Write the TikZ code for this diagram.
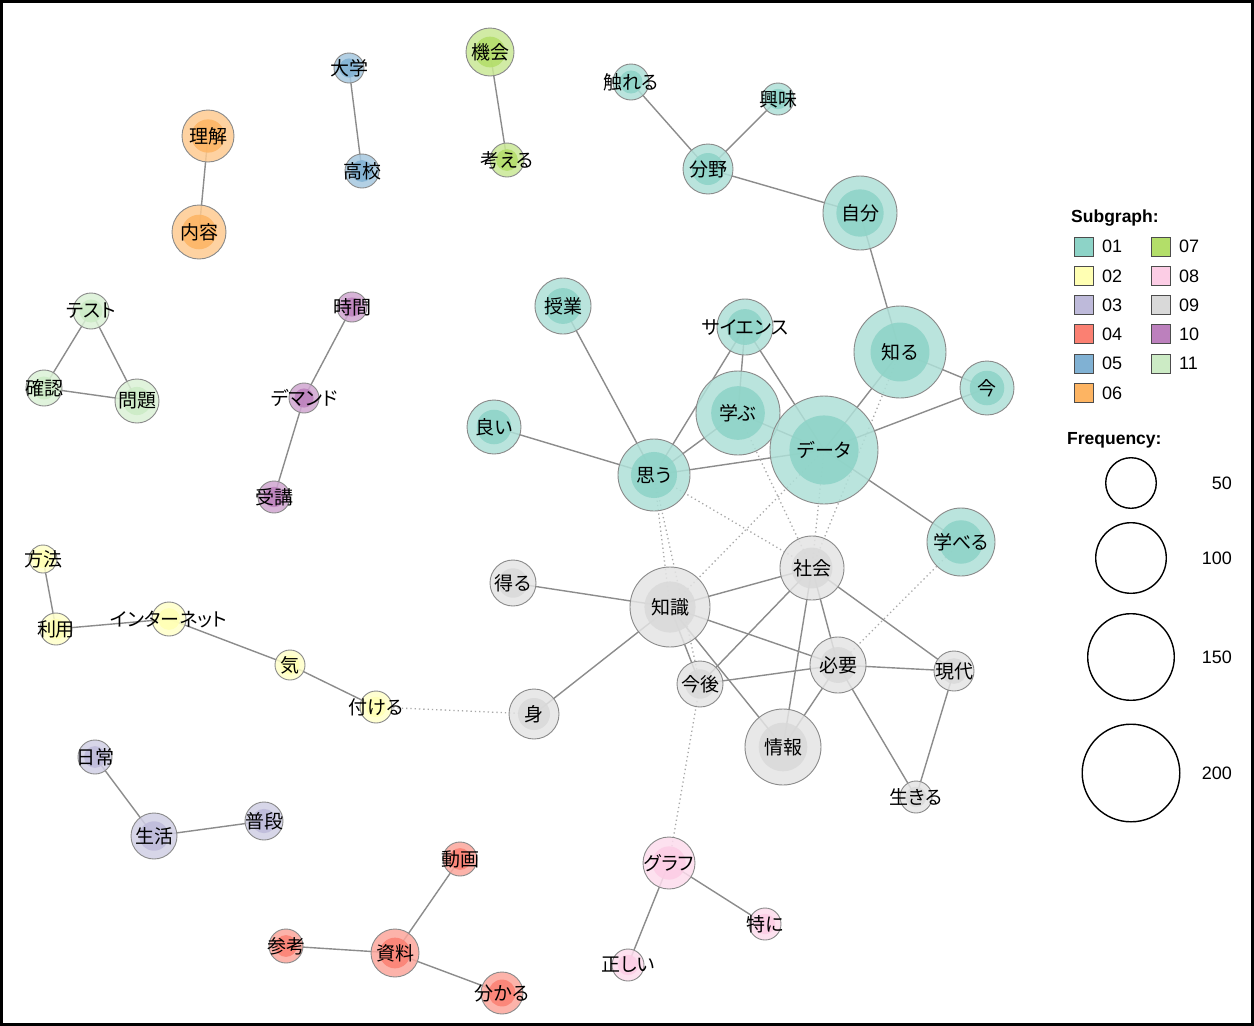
\documentclass[tikz,border=0pt]{standalone}
\usepackage{fontspec}
\newfontfamily\jpf[RawFeature={+palt}]{Noto Sans CJK JP}
\newfontfamily\lgf{Liberation Sans}
\definecolor{cA}{HTML}{8DD3C7}
\definecolor{cB}{HTML}{FFFFB3}
\definecolor{cC}{HTML}{BEBADA}
\definecolor{cD}{HTML}{FB8072}
\definecolor{cE}{HTML}{80B1D3}
\definecolor{cF}{HTML}{FDB462}
\definecolor{cG}{HTML}{B3DE69}
\definecolor{cH}{HTML}{FCCDE5}
\definecolor{cI}{HTML}{D9D9D9}
\definecolor{cJ}{HTML}{BC80BD}
\definecolor{cK}{HTML}{CCEBC5}
\definecolor{edgec}{HTML}{8C8C8C}
\definecolor{dotc}{HTML}{A8A8A8}
\definecolor{bordc}{HTML}{8A8A8A}
\pgfdeclarelayer{bg}
\pgfsetlayers{bg,main}
\tikzset{
  wordcirc/.style={circle, draw=bordc, line width=0.9pt, inner sep=0pt, outer sep=0pt},
  wordlabel/.style={font=\jpf\fontsize{19}{21}\selectfont, inner sep=0pt, text=black},
  lnk/.style={draw=edgec, line width=1.4pt},
  wlnk/.style={draw=dotc, line width=1.3pt, dash pattern=on 1.3pt off 3pt},
  legsq/.style={draw=black!70, line width=1pt},
  legtxt/.style={font=\lgf\fontsize{18}{20}\selectfont, inner sep=0pt},
  leghead/.style={font=\lgf\bfseries\fontsize{17.5}{20}\selectfont, inner sep=0pt, anchor=west},
  legcirc/.style={draw=black, line width=1.4pt}
}
\newcommand\wnode[6]{%
  \node[wordcirc, fill=#5!70!white, fill opacity=0.85, minimum size={2*#4 pt}] (#1) at (#2,#3) {};
  \fill[#5, fill opacity=0.85] (#1.center) circle[radius={0.64*#4 pt}];
  \node[wordlabel] (#1-t) at (#1.center) {#6};
}
\begin{document}
\begin{tikzpicture}[x=1pt,y=-1pt]
\useasboundingbox (0,0) rectangle (1254,1026);
\begin{pgfonlayer}{bg}
\fill[white] (0,0) rectangle (1254,1026);
\end{pgfonlayer}
\draw[line width=2.6pt] (1.3,1.3) rectangle (1252.7,1024.7);

% subgraph 01
\wnode{fureru}{631}{82}{18}{cA}{触れる}
\wnode{kyomi}{778}{99}{16}{cA}{興味}
\wnode{bunya}{708}{169}{25}{cA}{分野}
\wnode{jibun}{860}{213}{37}{cA}{自分}
\wnode{jugyo}{563}{306}{28}{cA}{授業}
\wnode{science}{745}{327}{28}{cA}{サイエンス}
\wnode{shiru}{900}{352}{46}{cA}{知る}
\wnode{ima}{987}{388}{27}{cA}{今}
\wnode{manabu}{738}{413}{42}{cA}{学ぶ}
\wnode{yoi}{494}{427}{27}{cA}{良い}
\wnode{data}{824}{450}{54}{cA}{データ}
\wnode{omou}{654}{475}{36}{cA}{思う}
\wnode{manaberu}{961}{542}{34}{cA}{学べる}
% subgraph 09
\wnode{eru}{513}{583}{23}{cI}{得る}
\wnode{chishiki}{670}{607}{40}{cI}{知識}
\wnode{shakai}{812}{568}{32}{cI}{社会}
\wnode{hitsuyo}{838}{665}{28}{cI}{必要}
\wnode{kongo}{700}{684}{23}{cI}{今後}
\wnode{gendai}{954}{671}{20}{cI}{現代}
\wnode{mi}{534}{714}{25}{cI}{身}
\wnode{joho}{783}{747}{38}{cI}{情報}
\wnode{ikiru}{916}{797}{16}{cI}{生きる}
% subgraph 02
\wnode{hoho}{43}{559}{14}{cB}{方法}
\wnode{riyo}{56}{629}{16}{cB}{利用}
\wnode{internet}{169}{619}{17}{cB}{インターネット}
\wnode{ki}{290}{665}{15}{cB}{気}
\wnode{tsukeru}{376}{707}{16}{cB}{付ける}
% subgraph 03
\wnode{nichijo}{95}{757}{17}{cC}{日常}
\wnode{seikatsu}{154}{836}{23}{cC}{生活}
\wnode{fudan}{264}{821}{19}{cC}{普段}
% subgraph 04
\wnode{doga}{460}{859}{17}{cD}{動画}
\wnode{sanko}{286}{946}{17}{cD}{参考}
\wnode{shiryo}{395}{953}{24}{cD}{資料}
\wnode{wakaru}{502}{993}{21}{cD}{分かる}
% subgraph 05
\wnode{daigaku}{349}{68}{15}{cE}{大学}
\wnode{koko}{362}{171}{17}{cE}{高校}
% subgraph 06
\wnode{rikai}{208}{136}{26}{cF}{理解}
\wnode{naiyo}{199}{232}{27}{cF}{内容}
% subgraph 07
\wnode{kikai}{490}{52}{24}{cG}{機会}
\wnode{kangaeru}{507}{160}{17}{cG}{考える}
% subgraph 08
\wnode{graph}{669}{863}{26}{cH}{グラフ}
\wnode{tokuni}{765}{924}{16}{cH}{特に}
\wnode{tadashii}{628}{965}{16}{cH}{正しい}
% subgraph 10
\wnode{jikan}{352}{307}{15}{cJ}{時間}
\wnode{demand}{304}{398}{15}{cJ}{デマンド}
\wnode{juko}{274}{497}{16}{cJ}{受講}
% subgraph 11
\wnode{test}{91}{311}{18}{cK}{テスト}
\wnode{kakunin}{44}{388}{18}{cK}{確認}
\wnode{mondai}{137}{401}{22}{cK}{問題}

\begin{pgfonlayer}{bg}
\foreach \a/\b in {fureru/bunya, kyomi/bunya, bunya/jibun, jibun/shiru,
  jugyo/omou, yoi/omou, science/omou, science/manabu, science/data,
  manabu/omou, manabu/data, omou/data, shiru/data, shiru/ima, ima/data,
  data/manaberu,
  eru/chishiki, chishiki/shakai, chishiki/hitsuyo, chishiki/kongo,
  chishiki/joho, chishiki/mi, shakai/kongo, shakai/joho, shakai/hitsuyo,
  shakai/gendai, kongo/hitsuyo, hitsuyo/gendai, hitsuyo/joho,
  hitsuyo/ikiru, gendai/ikiru,
  hoho/riyo, riyo/internet, internet/ki, ki/tsukeru,
  nichijo/seikatsu, seikatsu/fudan,
  doga/shiryo, sanko/shiryo, shiryo/wakaru,
  daigaku/koko, rikai/naiyo, kikai/kangaeru,
  graph/tadashii, graph/tokuni,
  jikan/demand, demand/juko,
  test/kakunin, test/mondai, kakunin/mondai}
  \draw[lnk] (\a.center) -- (\b.center);
\foreach \a/\b in {omou/chishiki, omou/kongo, omou/shakai, data/chishiki,
  manabu/shakai, data/shakai, shiru/shakai, manaberu/hitsuyo,
  tsukeru/mi, kongo/graph}
  \draw[wlnk] (\a.center) -- (\b.center);
\end{pgfonlayer}

% legend: subgraph
\node[leghead] (lhead) at (1071,218) {Subgraph:};
\foreach \lab/\col/\cx/\row in {01/cA/1074/0, 02/cB/1074/1, 03/cC/1074/2,
  04/cD/1074/3, 05/cE/1074/4, 06/cF/1074/5, 07/cG/1151/0, 08/cH/1151/1,
  09/cI/1151/2, 10/cJ/1151/3, 11/cK/1151/4}{
  \draw[legsq, fill=\col] (\cx,{237+29.3*\row}) rectangle ++(19,19);
  \node[legtxt, anchor=west] at ({\cx+28},{246.5+29.3*\row}) {\lab};
}
% legend: frequency
\node[leghead] (fhead) at (1067,440) {Frequency:};
\foreach \lab/\cy/\rr in {50/483/25.3, 100/558/35.3, 150/657/43.3, 200/773/48.8}{
  \draw[legcirc] (1131,\cy) circle[radius={\rr pt}];
  \node[legtxt, anchor=east] at (1232,\cy) {\lab};
}
\end{tikzpicture}
\end{document}
